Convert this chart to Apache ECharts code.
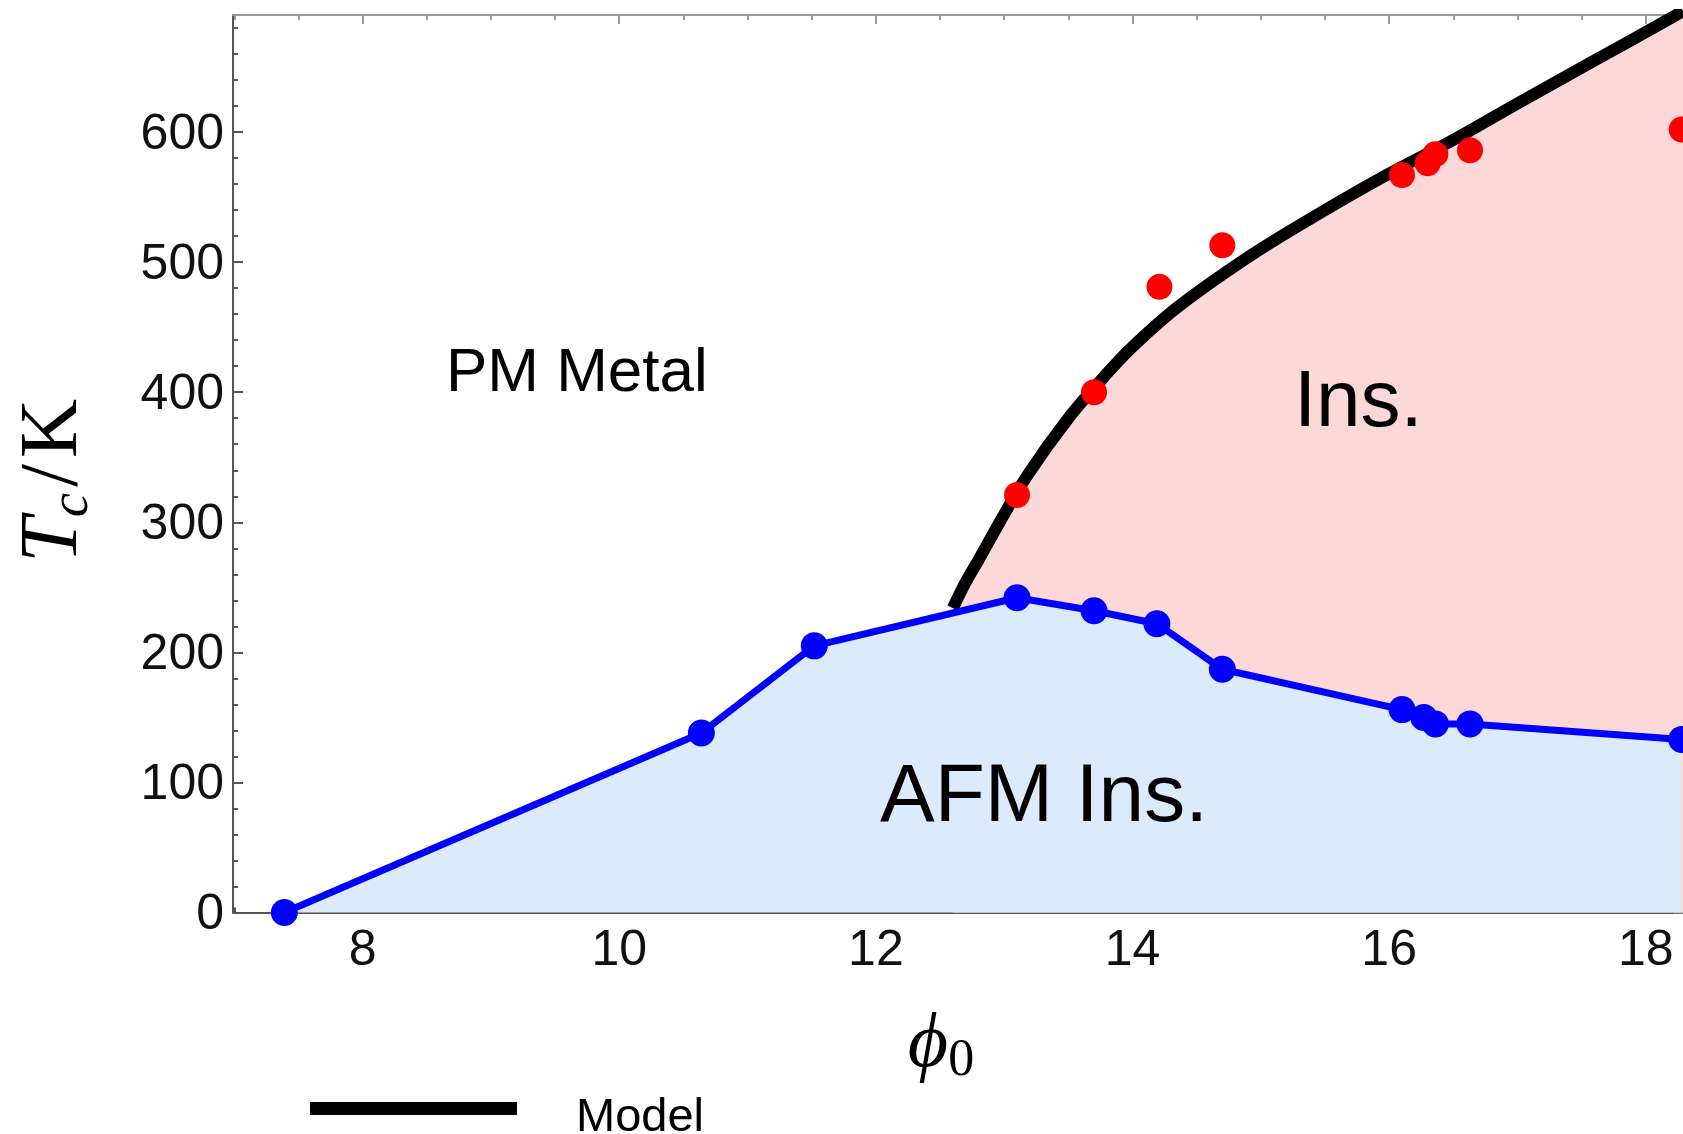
<!DOCTYPE html>
<html><head><meta charset="utf-8">
<script src="https://cdn.jsdelivr.net/npm/echarts@6/dist/echarts.min.js"></script>
<style>html,body{margin:0;padding:0;background:#fff}#c{width:1683px;height:1134px}</style>
</head><body><div id="c"></div>
<script>
// ---------- data ----------
const xMajorTicks = [8, 10, 12, 14, 16, 18];
const xMinorTicks = [7, 7.5, 8, 8.5, 9, 9.5, 10, 10.5, 11, 11.5, 12, 12.5, 13, 13.5, 14, 14.5, 15, 15.5, 16, 16.5, 17, 17.5, 18];
const yMajorTicks = [0, 100, 200, 300, 400, 500, 600];
const yMinorTicks = [0, 20, 40, 60, 80, 100, 120, 140, 160, 180, 200, 220, 240, 260, 280, 300, 320, 340, 360, 380, 400, 420, 440, 460, 480, 500, 520, 540, 560, 580, 600, 620, 640, 660, 680];

// Model curve (black, bounds the insulating region)
const modelX = [12.60, 12.70, 12.80, 12.97, 13.18, 13.50, 13.77, 13.98, 14.36, 14.95, 15.50, 15.98, 16.52, 17.00, 17.60, 18.13, 18.29];
const modelY = [234, 254, 271, 301, 336, 380, 411, 433, 466, 507, 540, 567, 595, 622, 655, 684, 693];

// AFM transition (blue)
const afmX = [7.39, 10.64, 11.52, 13.10, 13.70, 14.19, 14.70, 16.10, 16.27, 16.36, 16.63, 18.28];
const afmY = [0, 138, 205, 242, 232, 222, 187, 156, 150, 145, 145, 133];

// Metal-insulator points (red)
const expX = [13.10, 13.70, 14.21, 14.70, 16.10, 16.30, 16.36, 16.63, 18.28];
const expY = [321, 400, 481, 513, 567, 576, 583, 586, 602];

// Region labels
const regionNames = ['PM Metal', 'Ins.', 'AFM Ins.'];
const regionX = [9.67, 15.76, 13.31];
const regionY = [414, 391, 88];

// ---------- styling ----------
const X_MIN = 6.99, X_MAX = 18.29, Y_MIN = 0, Y_MAX = 690;
const SANS = "'Liberation Sans', Arial, Helvetica, sans-serif";
const SERIF = "'Liberation Serif', 'DejaVu Serif', 'Times New Roman', serif";
const regionFont = { 'PM Metal': 62, 'Ins.': 80, 'AFM Ins.': 82 };

function xAxisDef(pos, ticks, len, color, withLine, withLabel) {
  return {
    type: 'value', position: pos, min: X_MIN, max: X_MAX,
    axisLine: { show: withLine, onZero: false, lineStyle: { color: color, width: 2 } },
    axisTick: { show: true, inside: true, length: len, customValues: ticks, lineStyle: { color: color, width: 2 } },
    axisLabel: withLabel ? { show: true, customValues: ticks, fontSize: 50, color: '#111', fontFamily: SANS, margin: 14 } : { show: false },
    splitLine: { show: false }, axisPointer: { show: false }
  };
}
function yAxisDef(pos, ticks, len, color, withLine, withLabel) {
  return {
    type: 'value', position: pos, min: Y_MIN, max: Y_MAX,
    axisLine: { show: withLine, onZero: false, lineStyle: { color: color, width: 2 } },
    axisTick: { show: true, inside: true, length: len, customValues: ticks, lineStyle: { color: color, width: 2 } },
    axisLabel: withLabel ? {
      show: true, customValues: ticks, fontSize: 50, color: '#111', fontFamily: SANS, margin: 9,
      formatter: '{v|{value}}',
      rich: { v: { fontSize: 50, color: '#111', fontFamily: SANS, padding: [6, 0, 0, 0] } }
    } : { show: false },
    splitLine: { show: false }, axisPointer: { show: false }
  };
}

const xMain = xAxisDef('bottom', xMajorTicks, 9, '#555', true, true);
xMain.name = '{phi|\u03D5}{sub|0}';
xMain.nameLocation = 'middle';
xMain.nameGap = 90;
xMain.nameTextStyle = {
  fontFamily: SERIF, fontSize: 78, color: '#000', padding: [0, 34, 0, 0],
  rich: {
    phi: { fontFamily: SERIF, fontStyle: 'italic', fontSize: 78, lineHeight: 86, color: '#000' },
    sub: { fontFamily: SERIF, fontSize: 52, lineHeight: 52, padding: [32, 0, 0, 0], color: '#000' }
  }
};

const yMain = yAxisDef('left', yMajorTicks, 10, '#555', true, true);
yMain.name = '{it|T}{sub|c}{up|/}{up2|K}';
yMain.nameLocation = 'middle';
yMain.nameRotate = 90;
yMain.nameGap = 134;
yMain.nameTextStyle = {
  fontFamily: SERIF, fontSize: 82, color: '#000', padding: [0, 34, 0, 0],
  rich: {
    it: { fontFamily: SERIF, fontStyle: 'italic', fontSize: 82, lineHeight: 90, color: '#000' },
    sub: { fontFamily: SERIF, fontStyle: 'italic', fontSize: 55, lineHeight: 55, padding: [38, 6, 0, 0], color: '#000' },
    up: { fontFamily: SERIF, fontSize: 82, lineHeight: 90, padding: [0, 6, 0, 0], color: '#000' },
    up2: { fontFamily: SERIF, fontSize: 82, lineHeight: 90, color: '#000' }
  }
};

const option = {
  backgroundColor: '#ffffff',
  animation: false,
  grid: { left: 233, right: 0, top: 15, bottom: 221.5, outerBoundsMode: 'none', containLabel: false },
  legend: {
    data: ['Model'], left: 310, top: 1095, padding: 0, icon: 'rect',
    itemWidth: 207, itemHeight: 13, selectedMode: false,
    formatter: '{m|{name}}',
    textStyle: {
      fontSize: 47, fontFamily: SANS, color: '#000', padding: [0, 0, 0, 54],
      rich: { m: { fontSize: 47, fontFamily: SANS, color: '#000', padding: [20, 0, 0, 0] } }
    }
  },
  xAxis: [
    xMain,
    xAxisDef('bottom', xMinorTicks, 5, '#555', false, false),
    xAxisDef('top', xMajorTicks, 9, '#999', true, false),
    xAxisDef('top', xMinorTicks, 5, '#999', false, false)
  ],
  yAxis: [
    yMain,
    yAxisDef('left', yMinorTicks, 5, '#555', false, false),
    yAxisDef('right', yMajorTicks, 10, '#777', true, false),
    yAxisDef('right', yMinorTicks, 5, '#777', false, false)
  ],
  series: [
    {
      name: 'Model', type: 'line', xAxisIndex: 0, yAxisIndex: 0,
      data: modelX.map((x, i) => [x, modelY[i]]),
      smooth: 0.35, showSymbol: false, symbol: 'none',
      lineStyle: { color: '#000', width: 12, cap: 'butt', opacity: 1 },
      itemStyle: { color: '#000', opacity: 1 },
      areaStyle: { color: '#FDD8D9', opacity: 1 },
      clip: true, z: 2, silent: true
    },
    {
      name: 'AFM', type: 'line', xAxisIndex: 0, yAxisIndex: 0,
      data: afmX.map((x, i) => [x, afmY[i]]),
      symbol: 'circle', symbolSize: 27, showSymbol: true,
      lineStyle: { color: '#0000FF', width: 7, opacity: 1 },
      itemStyle: { color: '#0000FF', opacity: 1 },
      areaStyle: { color: '#DCEBFC', opacity: 1 },
      clip: true, z: 3, silent: true
    },
    {
      name: 'Exp', type: 'scatter', xAxisIndex: 0, yAxisIndex: 0,
      data: expX.map((x, i) => [x, expY[i]]),
      symbol: 'circle', symbolSize: 26,
      itemStyle: { color: '#FF0000', opacity: 1 },
      z: 4, silent: true
    },
    {
      name: 'Regions', type: 'scatter', xAxisIndex: 0, yAxisIndex: 0,
      data: regionNames.map((n, i) => ({
        name: n, value: [regionX[i], regionY[i]],
        label: { fontSize: regionFont[n] }
      })),
      symbolSize: 0, z: 5, silent: true,
      itemStyle: { opacity: 1 },
      label: { show: true, position: 'inside', formatter: p => p.name, color: '#000', opacity: 1, fontFamily: SANS }
    }
  ]
};

const chart = echarts.init(document.getElementById('c'), null, { renderer: 'canvas' });
chart.setOption(option);
</script>
</body></html>
